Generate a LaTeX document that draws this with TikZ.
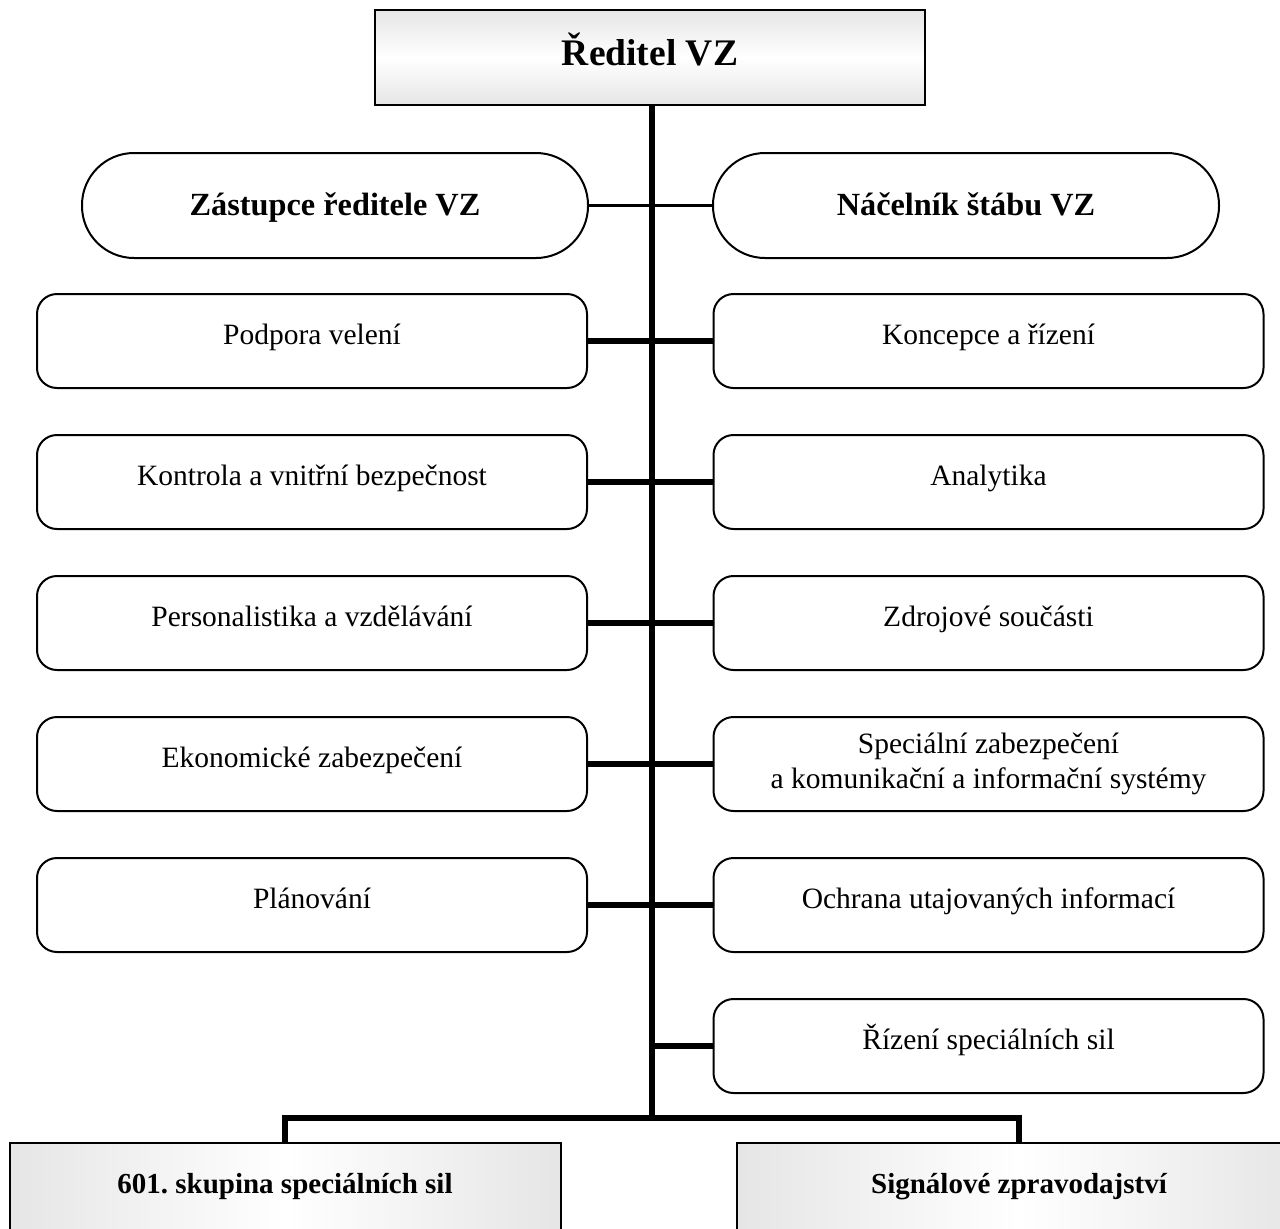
\documentclass[tikz,border=0pt]{standalone}
\usepackage{fontspec}
\setmainfont{Liberation Serif}
\begin{document}
\frenchspacing
\begin{tikzpicture}[x=1pt,y=-1pt,
  unitbase/.style={draw, line width=2pt, rounded corners=20pt, minimum width=550pt,
    minimum height=94pt, align=center, inner sep=0pt,
    font=\fontsize{29.5}{35}\selectfont},
  unitbox/.style={unitbase, text height=18pt, text depth=12pt},
  pillbox/.style={draw, line width=2pt, rounded corners=52pt, minimum width=506pt,
    minimum height=105pt, inner sep=0pt, text height=24pt, text depth=4pt,
    font=\bfseries\fontsize{32.3}{38}\selectfont},
  headbox/.style={draw, line width=2pt, minimum width=550pt, minimum height=95pt,
    inner sep=0pt, text height=25pt, text depth=10pt,
    top color=gray!20, bottom color=gray!20, middle color=white,
    font=\bfseries\fontsize{37.5}{44}\selectfont},
  basebox/.style={draw, line width=2pt, inner xsep=0pt, inner ysep=0pt,
    text height=50pt, text depth=90pt,
    left color=gray!20, right color=gray!20, middle color=white,
    font=\bfseries\fontsize{29}{35}\selectfont},
  trunkline/.style={line width=6.5pt},
  branchline/.style={line width=5.5pt},
  thinlink/.style={line width=3pt},
]
\useasboundingbox (0,0) rectangle (1280,1229);

% head
\node[headbox] (head) at (650,57.5) {Ředitel VZ};

% deputies
\node[pillbox] (zast) at (335,205.5) {Zástupce ředitele VZ};
\node[pillbox] (nacel) at (966,205.5) {Náčelník štábu VZ};

% left column
\node[unitbox] (l1) at (312,341) {Podpora velení};
\node[unitbox] (l2) at (312,482) {Kontrola a vnitřní bezpečnost};
\node[unitbox] (l3) at (312,623) {Personalistika a vzdělávání};
\node[unitbox] (l4) at (312,764) {Ekonomické zabezpečení};
\node[unitbox] (l5) at (312,905) {Plánování};

% right column
\node[unitbox] (r1) at (988.5,341) {Koncepce a řízení};
\node[unitbox] (r2) at (988.5,482) {Analytika};
\node[unitbox] (r3) at (988.5,623) {Zdrojové součásti};
\node[unitbase] (r4) at (988.5,764) {Speciální zabezpečení\\a komunikační a informační systémy};
\node[unitbox] (r5) at (988.5,905) {Ochrana utajovaných informací};
\node[unitbox] (r6) at (988.5,1046) {Řízení speciálních sil};

% bottom units
\node[basebox, minimum width=551pt, anchor=north] (b1) at (285,1142) {601. skupina speciálních sil};
\node[basebox, minimum width=564pt, anchor=north] (b2) at (1019,1142) {Signálové zpravodajství};

% trunk
\coordinate (tbot) at (652,1118);

% connectors
\draw[thinlink] (zast.east) -- (nacel.west);
\foreach \i in {1,...,5} {
  \draw[branchline] (l\i.east) -- (r\i.west);
}
\draw[branchline] (tbot |- r6.west) -- (r6.west);
\draw[trunkline] (head.south -| tbot) -- (tbot);
\draw[trunkline, line join=miter] (b1.north) -- (b1.north |- tbot) -- (b2.north |- tbot) -- (b2.north);
\end{tikzpicture}
\end{document}
